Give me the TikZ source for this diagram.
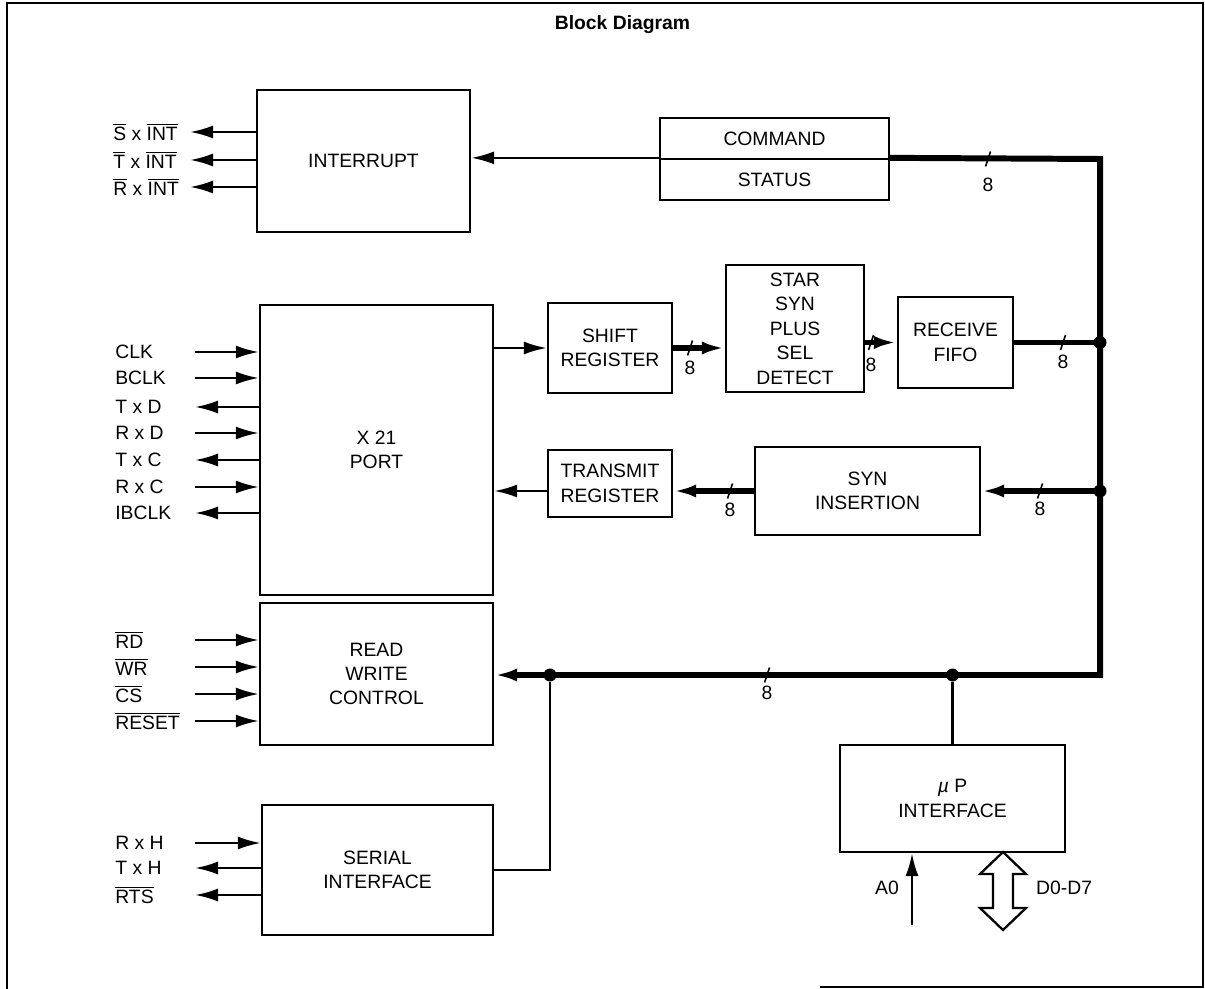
\documentclass[tikz,border=0pt]{standalone}
\usepackage{fontspec}
\setmainfont{Liberation Sans}
\usetikzlibrary{positioning, arrows.meta}

\newcommand{\lowact}[1]{$\overline{\mbox{#1}}$}
\newcommand{\buswd}[3]{\draw[tick] (#1-0.05,#2-0.15) -- (#1+0.05,#2+0.15); \node[inner sep=0pt] at (#1,#3) {8};}

\begin{document}
\begin{tikzpicture}[font=\fontsize{11}{13.9}\selectfont, >={Latex[length=4.6mm, width=2.6mm]},
  blk/.style={draw, line width=1.3pt, align=center, inner sep=2pt},
  sig/.style={anchor=west, inner sep=0pt},
  wire/.style={draw, line width=1.4pt},
  bus/.style={draw, line width=3.4pt},
  tick/.style={draw, line width=0.9pt},
  dot/.style={circle, fill, inner sep=0pt, minimum size=2.6mm}]
\useasboundingbox (0,0) rectangle (24.1,-19.78);
% frame and title
\draw[line width=1.2pt] (0.14,-19.78) -- (0.14,-0.06) -- (24.06,-0.06) -- (24.06,-19.74) -- (16.4,-19.74);
\node[font=\bfseries\fontsize{11}{13}\selectfont] (title) at (12.45,-0.5) {Block Diagram};
% blocks
\node[blk, minimum width=4.26cm, minimum height=2.84cm] (intr) at (7.27,-3.22) {INTERRUPT};
\node[blk, minimum width=4.58cm, minimum height=0.82cm] (cmd) at (15.49,-2.77) {COMMAND};
\node[blk, minimum width=4.58cm, minimum height=0.82cm] (status) at (15.49,-3.59) {STATUS};
\node[blk, minimum width=4.66cm, minimum height=5.8cm] (x21) at (7.53,-9.0) {X 21\\PORT};
\node[blk, minimum width=2.48cm, minimum height=1.8cm] (shift) at (12.2,-6.96) {SHIFT\\REGISTER};
\node[blk, minimum width=2.76cm, minimum height=2.54cm] (star) at (15.9,-6.57) {STAR\\SYN\\PLUS\\SEL\\DETECT};
\node[blk, minimum width=2.3cm, minimum height=1.82cm] (fifo) at (19.11,-6.85) {RECEIVE\\FIFO};
\node[blk, minimum width=2.48cm, minimum height=1.34cm] (txreg) at (12.2,-9.67) {TRANSMIT\\REGISTER};
\node[blk, minimum width=4.5cm, minimum height=1.76cm] (syn) at (17.35,-9.82) {SYN\\INSERTION};
\node[blk, minimum width=4.66cm, minimum height=2.84cm] (rwc) at (7.53,-13.48) {READ\\WRITE\\CONTROL};
\node[blk, minimum width=4.62cm, minimum height=2.6cm] (serial) at (7.55,-17.4) {SERIAL\\INTERFACE};
\node[blk, minimum width=4.5cm, minimum height=2.14cm] (up) at (19.05,-15.97) {\textit{µ} P\\INTERFACE};
% data bus
\coordinate (bustop) at (22,-3.18);
\coordinate (busbot) at (22,-13.5);
\draw[wire,->] (status.north west) -- (status.north west -| intr.east);
\draw[bus,->] (status.north east) -- (bustop) -- (busbot) -- (busbot -| rwc.east);
\draw[bus] (fifo.east) -- (fifo.east -| bustop);
\draw[bus,->] (syn.east -| bustop) -- (syn.east);
\draw[bus,->] (syn.west) -- (syn.west -| txreg.east);
\draw[wire,->] (syn.west -| txreg.west) -- (syn.west -| x21.east);
\draw[wire,->] (x21.east |- shift.west) -- (shift.west);
\draw[bus,->] (shift.east) -- (shift.east -| star.west);
\draw[bus,->] (star.east |- fifo.west) -- (fifo.west);
\node[dot] (j1) at (fifo.east -| bustop) {};
\node[dot] (j2) at (syn.east -| bustop) {};
\node[dot] (j3) at (up.north |- busbot) {};
\node[dot] (j4) at (11,-13.5) {};
\draw[wire] (serial.east) -| (j4);
\draw[wire] (j3) -- (up.north);
% bus widths
\buswd{19.76}{-3.18}{-3.7}
\buswd{21.26}{-6.85}{-7.24}
\buswd{20.8}{-9.82}{-10.18}
\buswd{14.6}{-9.82}{-10.2}
\buswd{15.34}{-13.5}{-13.86}
\buswd{13.8}{-6.96}{-7.36}
\buswd{17.42}{-6.85}{-7.3}
% interrupt outputs
\foreach \nm/\y/\txt in {sxint/-2.64/{\lowact{S} x \lowact{INT}},
    txint/-3.2/{\lowact{T} x \lowact{INT}}, rxint/-3.74/{\lowact{R} x \lowact{INT}}} {
  \node[sig] (\nm) at (2.26,\y) {\txt};
  \coordinate (\nm-end) at (3.8,\y);
  \draw[wire,->] (intr.west |- \nm-end) -- (\nm-end);
}
% port lines (1 = input, 0 = output)
\foreach \nm/\y/\txt/\d in {clk/-7.04/CLK/1, bclk/-7.56/BCLK/1, txd/-8.14/{T x D}/0,
    rxd/-8.66/{R x D}/1, txc/-9.2/{T x C}/0, rxc/-9.74/{R x C}/1, ibclk/-10.26/IBCLK/0} {
  \node[sig] (\nm) at (2.3,\y) {\txt};
  \coordinate (\nm-end) at (3.9,\y);
  \ifnum\d=1 \draw[wire,->] (\nm-end) -- (x21.west |- \nm-end);
  \else \draw[wire,->] (x21.west |- \nm-end) -- (\nm-end); \fi
}
% control inputs
\foreach \nm/\y/\txt in {rd/-12.8/RD, wr/-13.34/WR, cs/-13.88/CS, reset/-14.42/RESET} {
  \node[sig] (\nm) at (2.3,\y) {\lowact{\txt}};
  \coordinate (\nm-end) at (3.9,\y);
  \draw[wire,->] (\nm-end) -- (rwc.west |- \nm-end);
}
% serial lines
\foreach \nm/\y/\txt/\d in {rxh/-16.86/{R x H}/1, txh/-17.36/{T x H}/0, rts/-17.9/{\lowact{RTS}}/0} {
  \node[sig] (\nm) at (2.3,\y) {\txt};
  \coordinate (\nm-end) at (3.9,\y);
  \ifnum\d=1 \draw[wire,->] (\nm-end) -- (serial.west |- \nm-end);
  \else \draw[wire,->] (serial.west |- \nm-end) -- (\nm-end); \fi
}
% microprocessor side
\coordinate (a0end) at (18.24,-18.5);
\draw[wire,->] (a0end) -- (a0end |- up.south);
\node[anchor=east] (a0) at (18.1,-17.76) {A0};
\coordinate (dtip) at (20.06,-17.04);
\draw[line width=1.3pt, fill=white] (dtip) -- ++(-0.46,-0.44) -- ++(0.26,0) -- ++(0,-0.68)
  -- ++(-0.26,0) -- ++(0.46,-0.44) -- ++(0.46,0.44) -- ++(-0.26,0) -- ++(0,0.68)
  -- ++(0.26,0) -- cycle;
\node[anchor=west] (data) at (20.6,-17.76) {D0-D7};
\end{tikzpicture}
\end{document}
